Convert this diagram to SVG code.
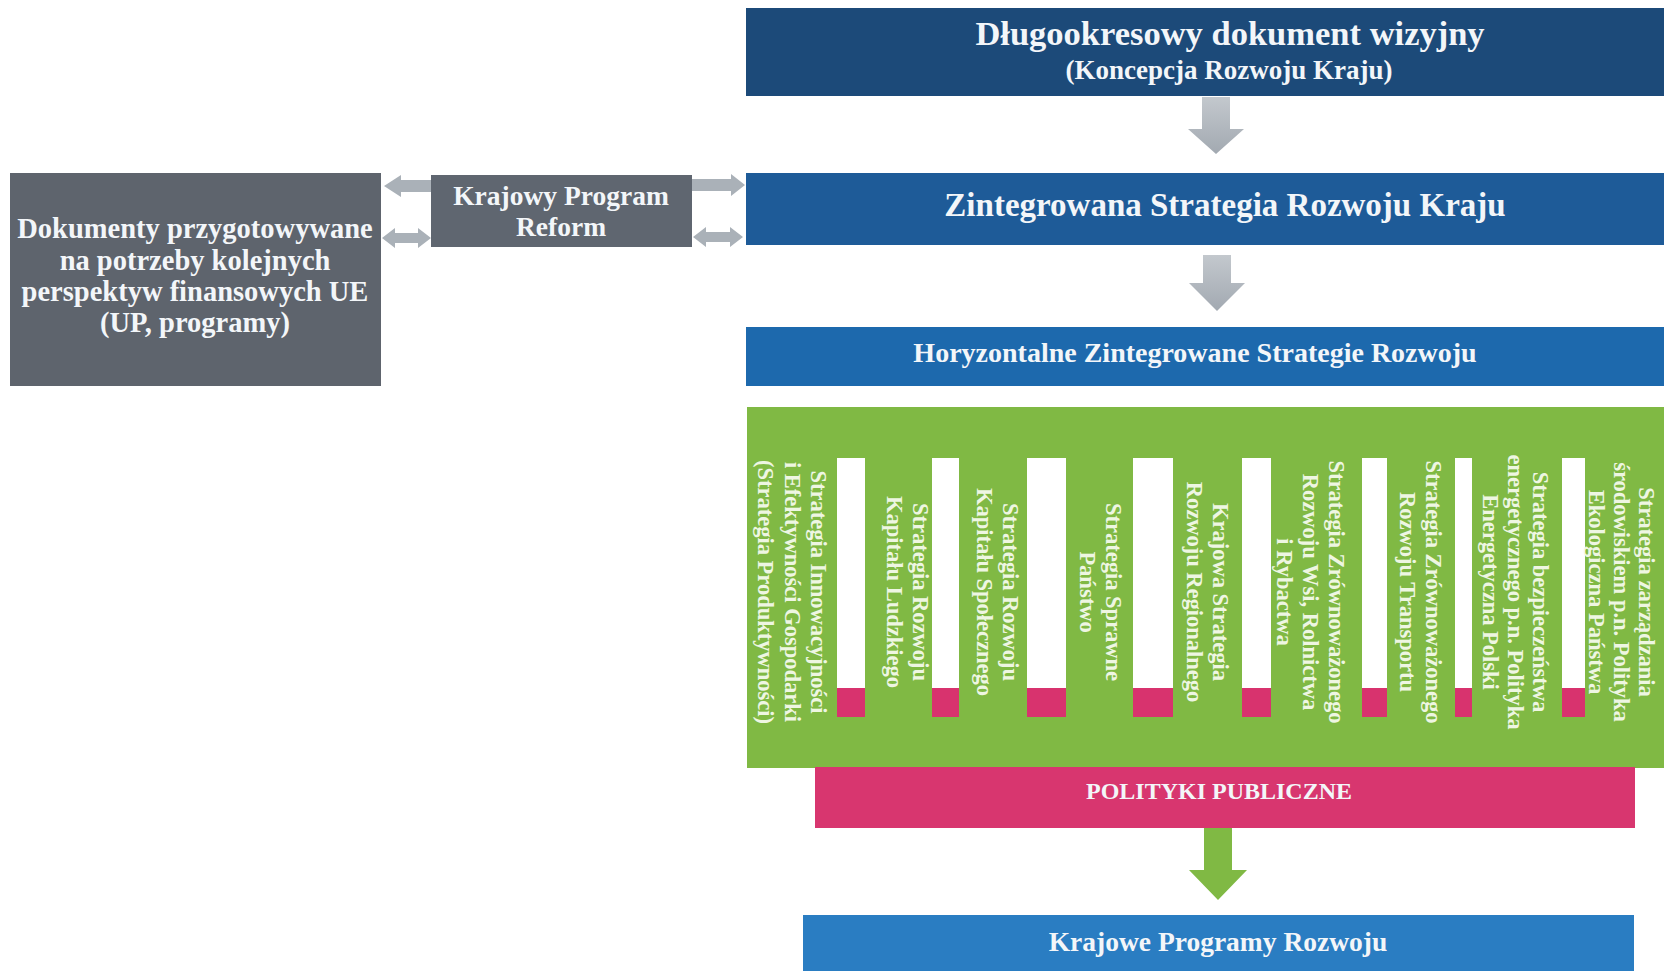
<svg xmlns="http://www.w3.org/2000/svg" width="1664" height="971" viewBox="0 0 1664 971">
<style>
  text { font-family: "Liberation Serif", "Times New Roman", serif; font-weight: bold; }
  .lbl { fill: #f3f6f9; text-anchor: middle; }
  .vt { fill: #eef6e2; text-anchor: middle; font-size: 22.5px; }
  .garrow { fill: #aab1b8; }
  .bar { fill: #ffffff; }
  .barp { fill: #d8336e; }
</style>
<defs>
  <linearGradient id="gg" x1="0" y1="0" x2="0" y2="1">
    <stop offset="0" stop-color="#c3c8cd"/>
    <stop offset="1" stop-color="#a2a9b1"/>
  </linearGradient>
</defs>
<rect width="1664" height="971" fill="#ffffff"/>

<g id="connectors">
  <polygon fill="url(#gg)" points="1202,97 1230,97 1230,129 1244,129 1216,154 1188,129 1202,129"/>
  <polygon fill="url(#gg)" points="1203,255 1231,255 1231,283 1245,283 1217,311 1189,283 1203,283"/>
  <polygon fill="#80b944" points="1204,828 1232,828 1232,870 1247,870 1218,900 1189,870 1204,870"/>
  <polygon class="garrow" points="384,186 401,175 401,180 431,180 431,192 401,192 401,197"/>
  <polygon class="garrow" points="382,238 395,228 395,233 418,233 418,228 431,238 418,248 418,243 395,243 395,248"/>
  <polygon class="garrow" points="692,179 731,179 731,174 745,185 731,196 731,191 692,191"/>
  <polygon class="garrow" points="693,237 706,227 706,232 730,232 730,227 743,237 730,247 730,242 706,242 706,247"/>
</g>

<g id="node-wizja">
  <rect x="746" y="8" width="918" height="88" fill="#1c4a79"/>
  <text class="lbl" x="1230" y="45" font-size="34.5">Długookresowy dokument wizyjny</text>
  <text class="lbl" x="1229" y="79" font-size="27">(Koncepcja Rozwoju Kraju)</text>
</g>

<g id="node-zsrk">
  <rect x="746" y="173" width="918" height="72" fill="#1e5b98"/>
  <text class="lbl" x="1225" y="216" font-size="33">Zintegrowana Strategia Rozwoju Kraju</text>
</g>

<g id="node-hzsr">
  <rect x="746" y="327" width="918" height="59" fill="#1d69ad"/>
  <text class="lbl" x="1195" y="362" font-size="28">Horyzontalne Zintegrowane Strategie Rozwoju</text>
</g>

<g id="node-dokumenty">
  <rect x="10" y="173" width="371" height="213" fill="#5e646d"/>
  <text class="lbl" x="195" y="238" font-size="28.5">Dokumenty przygotowywane</text>
  <text class="lbl" x="195" y="270" font-size="28.5">na potrzeby kolejnych</text>
  <text class="lbl" x="195" y="301" font-size="28.5">perspektyw finansowych UE</text>
  <text class="lbl" x="195" y="332" font-size="28.5">(UP, programy)</text>
</g>

<g id="node-kpr">
  <rect x="431" y="175" width="261" height="72" fill="#5f6670"/>
  <text class="lbl" x="561" y="205" font-size="27.5">Krajowy Program</text>
  <text class="lbl" x="561" y="236" font-size="27.5">Reform</text>
</g>

<g id="node-strategie">
  <rect x="747" y="407" width="917" height="361" fill="#80b944"/>
  <g id="bars">
    <rect class="bar" x="837" y="458" width="28" height="230"/><rect class="barp" x="837" y="688" width="28" height="29"/>
    <rect class="bar" x="932" y="458" width="27" height="230"/><rect class="barp" x="932" y="688" width="27" height="29"/>
    <rect class="bar" x="1027" y="458" width="39" height="230"/><rect class="barp" x="1027" y="688" width="39" height="29"/>
    <rect class="bar" x="1133" y="458" width="40" height="230"/><rect class="barp" x="1133" y="688" width="40" height="29"/>
    <rect class="bar" x="1242" y="458" width="29" height="230"/><rect class="barp" x="1242" y="688" width="29" height="29"/>
    <rect class="bar" x="1362" y="458" width="25" height="230"/><rect class="barp" x="1362" y="688" width="25" height="29"/>
    <rect class="bar" x="1455" y="458" width="17" height="230"/><rect class="barp" x="1455" y="688" width="17" height="29"/>
    <rect class="bar" x="1562" y="458" width="23" height="230"/><rect class="barp" x="1562" y="688" width="23" height="29"/>
  </g>
  <g id="s1"><text class="vt" transform="translate(811,592) rotate(90)"><tspan x="0" dy="0">Strategia Innowacyjności</tspan><tspan x="0" dy="26.5">i Efektywności Gospodarki</tspan><tspan x="0" dy="26.5">(Strategia Produktywności)</tspan></text></g>
  <g id="s2"><text class="vt" transform="translate(913,592) rotate(90)"><tspan x="0" dy="0">Strategia Rozwoju</tspan><tspan x="0" dy="26.5">Kapitału Ludzkiego</tspan></text></g>
  <g id="s3"><text class="vt" transform="translate(1003,592) rotate(90)"><tspan x="0" dy="0">Strategia Rozwoju</tspan><tspan x="0" dy="26.5">Kapitału Społecznego</tspan></text></g>
  <g id="s4"><text class="vt" transform="translate(1106,592) rotate(90)"><tspan x="0" dy="0">Strategia Sprawne</tspan><tspan x="0" dy="26.5">Państwo</tspan></text></g>
  <g id="s5"><text class="vt" transform="translate(1213,592) rotate(90)"><tspan x="0" dy="0">Krajowa Strategia</tspan><tspan x="0" dy="26.5">Rozwoju Regionalnego</tspan></text></g>
  <g id="s6"><text class="vt" transform="translate(1329,592) rotate(90)"><tspan x="0" dy="0">Strategia Zrównoważonego</tspan><tspan x="0" dy="26">Rozwoju Wsi, Rolnictwa</tspan><tspan x="0" dy="26">i Rybactwa</tspan></text></g>
  <g id="s7"><text class="vt" transform="translate(1426,592) rotate(90)"><tspan x="0" dy="0">Strategia Zrównoważonego</tspan><tspan x="0" dy="26">Rozwoju Transportu</tspan></text></g>
  <g id="s8"><text class="vt" transform="translate(1533,592) rotate(90)"><tspan x="0" dy="0">Strategia bezpieczeństwa</tspan><tspan x="0" dy="25">energetycznego p.n. Polityka</tspan><tspan x="0" dy="25">Energetyczna Polski</tspan></text></g>
  <g id="s9"><text class="vt" transform="translate(1639,592) rotate(90)"><tspan x="0" dy="0">Strategia zarządzania</tspan><tspan x="0" dy="25">środowiskiem p.n. Polityka</tspan><tspan x="0" dy="25">Ekologiczna Państwa</tspan></text></g>
</g>

<g id="node-polityki">
  <rect x="815" y="767" width="820" height="61" fill="#d8366f"/>
  <text class="lbl" x="1219" y="799" font-size="24">POLITYKI PUBLICZNE</text>
</g>

<g id="node-kprozwoju">
  <rect x="803" y="915" width="831" height="56" fill="#2a7dc2"/>
  <text class="lbl" x="1218" y="951" font-size="27.5">Krajowe Programy Rozwoju</text>
</g>
</svg>
